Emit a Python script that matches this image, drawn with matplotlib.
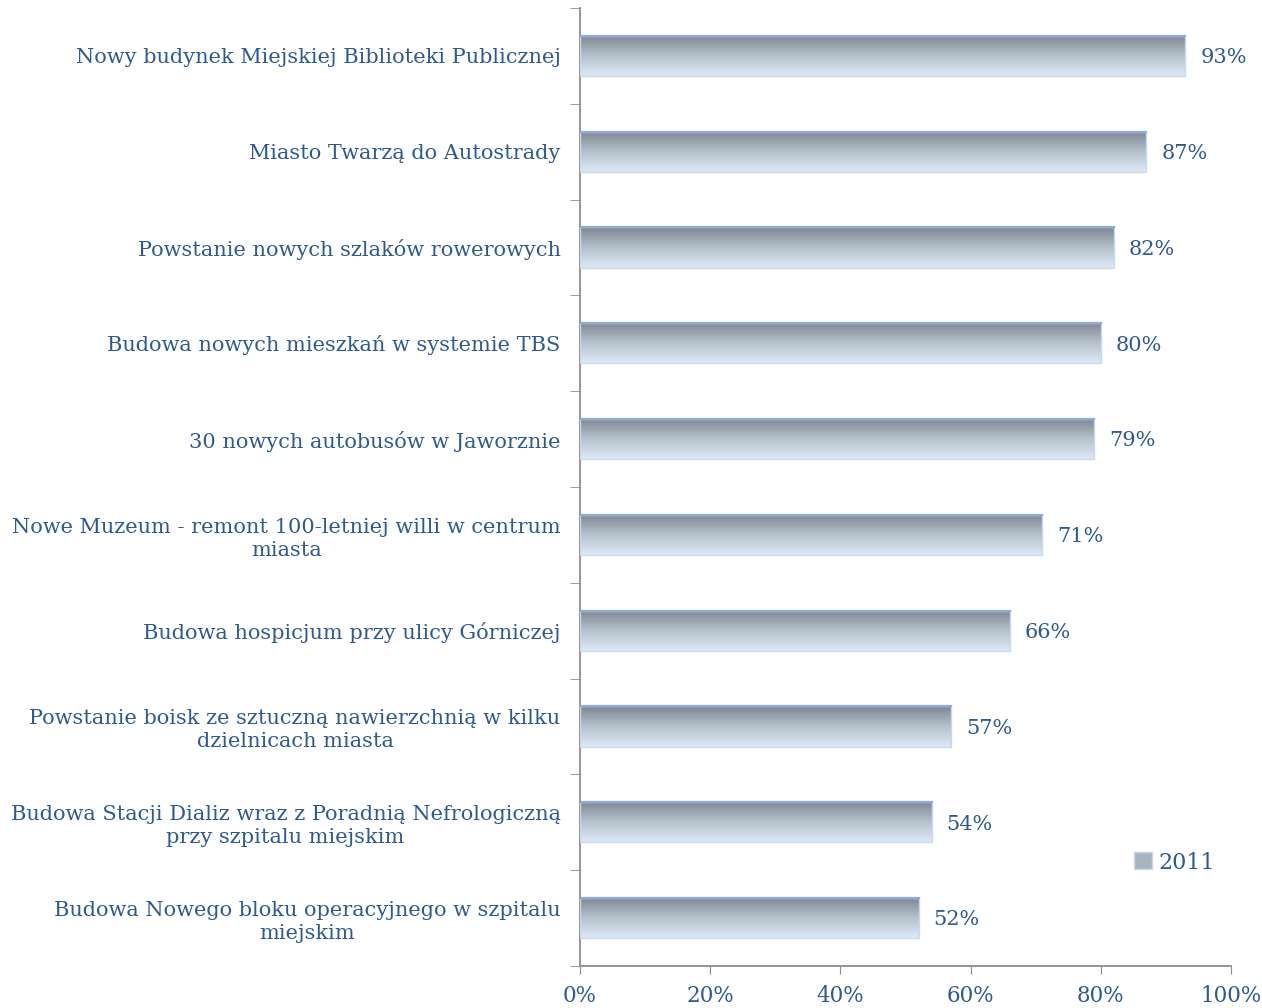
import numpy as np
import matplotlib
matplotlib.use("Agg")
import matplotlib.pyplot as plt
from matplotlib.patches import Rectangle
from matplotlib.colors import LinearSegmentedColormap

# data (top to bottom)
labels = [
    "Nowy budynek Miejskiej Biblioteki Publicznej",
    "Miasto Twarzą do Autostrady",
    "Powstanie nowych szlaków rowerowych",
    "Budowa nowych mieszkań w systemie TBS",
    "30 nowych autobusów w Jaworznie",
    "Nowe Muzeum - remont 100-letniej willi w centrum\nmiasta",
    "Budowa hospicjum przy ulicy Górniczej",
    "Powstanie boisk ze sztuczną nawierzchnią w kilku\ndzielnicach miasta",
    "Budowa Stacji Dializ wraz z Poradnią Nefrologiczną\nprzy szpitalu miejskim",
    "Budowa Nowego bloku operacyjnego w szpitalu\nmiejskim",
]
values = [93, 87, 82, 80, 79, 71, 66, 57, 54, 52]
series_name = "2011"
xticks = [0, 20, 40, 60, 80, 100]

txt_color = "#2E5A8C"
axis_color = "#8C8C8C"
plt.rcParams['font.family'] = ['DejaVu Serif']

grad = LinearSegmentedColormap.from_list("bar", ["#7D858F", "#B6C1CD", "#DDE9F6"])
gimg = np.linspace(0, 1, 256).reshape(-1, 1)

fig = plt.figure(figsize=(12.62, 10.08), dpi=100)
ax = fig.add_axes([0.4596, 0.0417, 0.5158, 0.9504])

n = len(values)
pos = np.arange(n)
h = 0.42
for p, v in zip(pos, values):
    # image row 0 at top of bar (ylim inverted later)
    ax.imshow(gimg, cmap=grad, aspect="auto", interpolation="bilinear",
              extent=[0, v, p + h / 2, p - h / 2], zorder=2)
    ax.add_patch(Rectangle((0, p - h / 2), v, h, facecolor="none",
                           edgecolor="#C9D8EE", lw=1.0, zorder=3))
    ax.plot([0, v], [p - h / 2, p - h / 2], color="#8FAADC", lw=1.6, zorder=4)
    ax.text(v + 2.3, p + 0.02, f"{v}%", va="center", ha="left",
            fontsize=15, color=txt_color)

ax.set_xlim(0, 100)
ax.set_ylim(n - 0.5, -0.5)

ax.set_yticks(pos)
ax.set_yticklabels(labels, fontsize=15, color=txt_color, multialignment="center",
                   linespacing=1.25)
ax.set_yticks(np.arange(-0.5, n, 1), minor=True)
ax.tick_params(axis="y", which="major", length=0, pad=14)
ax.tick_params(axis="y", which="minor", length=7, color=axis_color, direction="out")

ax.set_xticks(xticks)
ax.set_xticklabels([f"{t}%" for t in xticks], fontsize=15.5, color=txt_color)
ax.tick_params(axis="x", length=6, color=axis_color, direction="out", pad=8)

for s in ["top", "right"]:
    ax.spines[s].set_visible(False)
for s in ["left", "bottom"]:
    ax.spines[s].set_color(axis_color)
    ax.spines[s].set_linewidth(1.3)

handle = Rectangle((0, 0), 1, 1, facecolor="#A9B4C1", edgecolor="#C9D8EE")
leg = ax.legend([handle], [series_name], loc="center left",
                bbox_to_anchor=(0.82, 0.108), frameon=False,
                handlelength=0.8, handleheight=0.8, handletextpad=0.3,
                prop={"size": 16})
for t in leg.get_texts():
    t.set_color(txt_color)

fig.savefig("out.png", dpi=100)
